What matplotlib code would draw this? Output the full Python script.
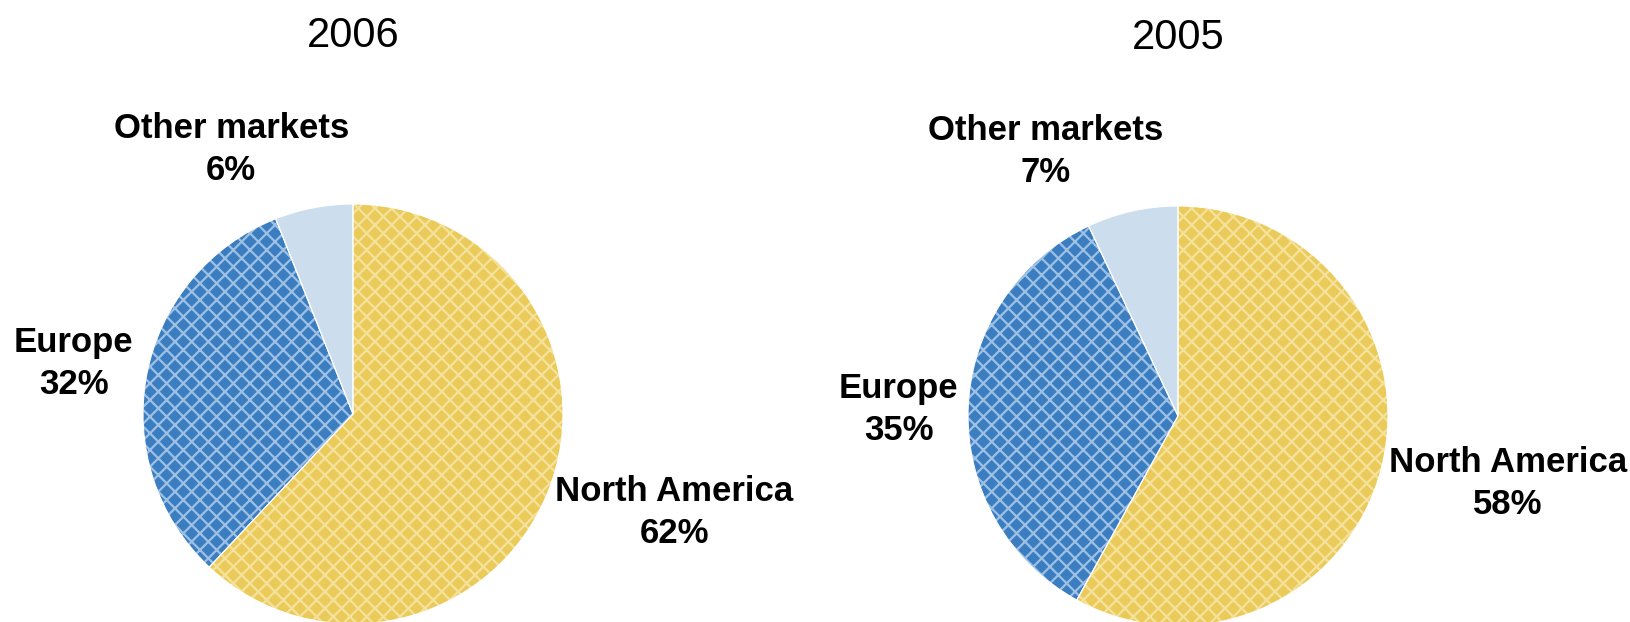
import matplotlib.pyplot as plt

plt.rcParams['font.family'] = ['Liberation Sans', 'DejaVu Sans']
plt.rcParams['hatch.linewidth'] = 1.6

regions = ['North America', 'Europe', 'Other markets']
share_2006 = [62, 32, 6]
share_2005 = [58, 35, 7]
years = ['2006', '2005']

face_colors = ['#EACB5A', '#3A7DC0', '#CCDEED']
hatch_colors = ['#F4E29C', '#9DC0E4', '#CCDEED']
hatches = ['xx', 'xx', '']

# label spots in pie units (radius 1), per chart
label_pos_2006 = [(1.53, -0.47), (-1.33, 0.24), (-0.58, 1.26)]
label_pos_2005 = [(1.57, -0.32), (-1.33, 0.03), (-0.63, 1.26)]

fig = plt.figure(figsize=(16.3, 6.22), dpi=100)

# axes boxes: centre x, centre y (fig fraction), radius 210 px
R = 210 / 1630, 210 / 622
boxes = [(353 / 1630, 1 - 414 / 622), (1178 / 1630, 1 - 416 / 622)]


def draw_pie(box, values, year, label_pos):
    cx, cy = box
    ax = fig.add_axes([cx - R[0], cy - R[1], 2 * R[0], 2 * R[1]])
    wedges, _ = ax.pie(values, startangle=90, counterclock=False,
                       colors=face_colors,
                       wedgeprops=dict(linewidth=0))
    for w, hc, h in zip(wedges, hatch_colors, hatches):
        w.set_edgecolor(hc)
        w.set_hatch(h)
    # thin white separators
    ax.pie(values, startangle=90, counterclock=False,
           colors=['none'] * len(values),
           wedgeprops=dict(linewidth=0.8, edgecolor='white'))
    ax.set_xlim(-1, 1)
    ax.set_ylim(-1, 1)
    ax.set_aspect('auto')
    ax.axis('off')
    for name, v, (x, y) in zip(regions, values, label_pos):
        ax.text(x, y, f'{name}\n{v}%', ha='center', va='center',
                fontsize=25, fontweight='bold', linespacing=1.35,
                clip_on=False)
    ax.text(0, 1.8, year, ha='center', va='center', fontsize=30,
            clip_on=False)


draw_pie(boxes[0], share_2006, years[0], label_pos_2006)
draw_pie(boxes[1], share_2005, years[1], label_pos_2005)

fig.savefig('out.png', dpi=100, facecolor='white')
